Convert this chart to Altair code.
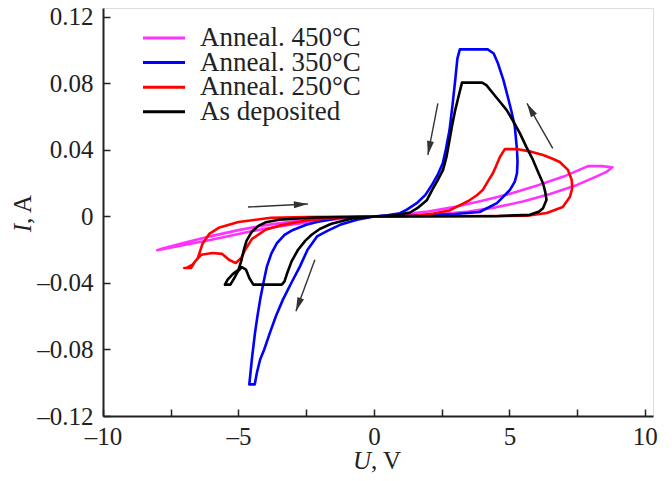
import math
import altair as alt
import pandas as pd

# ---------------- data ----------------
series_names = ["Anneal. 450°C", "Anneal. 350°C", "Anneal. 250°C", "As deposited"]
series_colors = ["#ff33ff", "#0000ff", "#ff0000", "#000000"]

# Anneal. 450°C (closed loop)
u_450 = [0, 1, 2, 3, 4, 5, 6, 7, 7.9, 8.4, 8.8,
         8.6, 8.2, 7.5, 6.5, 5.5, 4.5, 3.5, 2.5, 1.5, 0,
         -1, -2, -3, -4, -5, -6, -7, -8,
         -7.8, -7, -6, -5, -4, -3, -2, -1, 0]
i_450 = [0, 0.0012, 0.003, 0.0058, 0.0095, 0.0135, 0.0185, 0.024, 0.0303, 0.0303, 0.0296,
         0.027, 0.024, 0.019, 0.0135, 0.009, 0.0055, 0.003, 0.0015, 0.0005, 0,
         -0.001, -0.0025, -0.0048, -0.0072, -0.0105, -0.014, -0.0172, -0.0203,
         -0.0192, -0.0158, -0.0118, -0.0082, -0.0052, -0.003, -0.0015, -0.0005, 0]

# Anneal. 350°C
u_350 = [0, 1, 2, 3, 3.9, 4.54, 5.02, 5.2, 5.28, 5.3, 5.28, 5.2, 5.08, 4.94, 4.78, 4.58, 4.42, 4.2, 3.17,
         3.08, 3.0, 2.9, 2.79, 2.65, 2.54, 2.35, 2.18, 1.9, 1.58, 1.2, 0.96, 0.5, 0,
         -0.63, -1.25, -1.7, -2.1, -2.45, -2.73, -3.05, -3.36, -3.62, -3.84, -4.05, -4.2, -4.32, -4.4, -4.6,
         -4.5, -4.39, -4.3, -4.2, -4.08, -3.95, -3.78, -3.58, -3.3, -2.99, -2.5, -2.1, -1.25, 0]
i_350 = [0, 0.0003, 0.0008, 0.0015, 0.0027, 0.008, 0.016, 0.021, 0.026, 0.033, 0.040, 0.054, 0.063, 0.072, 0.082, 0.092, 0.098, 0.1005, 0.1005,
         0.095, 0.082, 0.067, 0.052, 0.040, 0.032, 0.025, 0.020, 0.013, 0.008, 0.004, 0.002, 0.0007, 0,
         -0.002, -0.005, -0.0085, -0.012, -0.020, -0.030, -0.040, -0.050, -0.060, -0.070, -0.080, -0.086, -0.094, -0.101, -0.101,
         -0.085, -0.070, -0.060, -0.050, -0.040, -0.030, -0.022, -0.016, -0.011, -0.0081, -0.005, -0.0033, -0.0008, 0]

# Anneal. 250°C
u_250 = [0, 4.5, 5.65, 6.38, 6.97, 7.23, 7.32, 7.3, 7.16, 6.86, 6.55, 6.24, 5.8, 5.31, 4.83,
         4.65, 4.5, 4.39, 4.2, 4.02, 3.8, 3.54, 3.2, 2.78, 2.2, 1.58, 0,
         -1.3, -2.5, -3.8, -5.0, -5.7, -6.08, -6.33, -6.5, -6.7, -6.93, -7.0, -6.75,
         -6.6, -6.37, -5.97, -5.6, -5.35, -5.1, -4.9, -4.75, -4.5, -4.0, -3.5, -2.53, -1.3, 0]
i_250 = [0, 0.0002, 0.0004, 0.0021, 0.0057, 0.0117, 0.017, 0.022, 0.028, 0.0328, 0.035, 0.037, 0.039, 0.0405, 0.0405,
         0.0358, 0.030, 0.026, 0.021, 0.016, 0.0128, 0.0099, 0.007, 0.0036, 0.0018, 0.0006, 0,
         -0.0002, -0.0004, -0.0008, -0.0033, -0.0066, -0.0105, -0.0165, -0.025, -0.029, -0.031, -0.031, -0.031,
         -0.027, -0.023, -0.022, -0.0225, -0.026, -0.028, -0.025, -0.020, -0.0135, -0.008, -0.0055, -0.0024, -0.0006, 0]

# As deposited
u_dep = [0, 4.6, 5.76, 6.1, 6.24, 6.37, 6.32, 6.24, 6.05, 5.87, 5.62, 5.39, 5.15, 4.9, 4.65, 4.4, 4.15, 3.99, 3.25,
         3.12, 3.0, 2.9, 2.79, 2.68, 2.55, 2.36, 2.15, 1.95, 1.6, 1.33, 0.8, 0,
         -0.8, -1.57, -2.0, -2.3, -2.53, -2.8, -3.04, -3.2, -3.3, -3.4, -4.45, -4.6, -4.72, -4.88, -5.02, -5.15, -5.3, -5.5,
         -5.4, -5.2, -5.0, -4.9, -4.8, -4.7, -4.5, -4.25, -4.0, -3.5, -2.2, 0]
i_dep = [0, 0.0003, 0.001, 0.003, 0.005, 0.010, 0.015, 0.020, 0.027, 0.034, 0.042, 0.050, 0.057, 0.064, 0.069, 0.074, 0.079, 0.0805, 0.0805,
         0.072, 0.064, 0.056, 0.046, 0.036, 0.028, 0.022, 0.016, 0.0097, 0.005, 0.0024, 0.0007, 0,
         -0.0012, -0.0044, -0.0075, -0.011, -0.0145, -0.020, -0.027, -0.034, -0.039, -0.041, -0.041, -0.037, -0.032, -0.0305, -0.033, -0.037, -0.041, -0.041,
         -0.038, -0.0345, -0.032, -0.027, -0.020, -0.0145, -0.009, -0.0055, -0.0035, -0.002, -0.0006, 0]

# arrows: start (u, i) -> end (u, i)
arrow_u1 = [-4.65, 2.36, 6.6, -2.18]
arrow_i1 = [0.0057, 0.068, 0.041, -0.026]
arrow_u2 = [-2.44, 1.99, 5.65, -2.88]
arrow_i2 = [0.0075, 0.037, 0.068, -0.057]

x_ticks = [-10, -7.5, -5, -2.5, 0, 2.5, 5, 7.5, 10]
y_ticks = [-0.12, -0.10, -0.08, -0.06, -0.04, -0.02, 0, 0.02, 0.04, 0.06, 0.08, 0.10, 0.12]

# ---------------- layout ----------------
W, H = 550, 408
X_DOM = [-10, 10.3]
Y_DOM = [-0.12, 0.1254]
FONT = "Liberation Serif"
TXT = "#222222"

rows = []
for name, us, iis in zip(series_names, [u_450, u_350, u_250, u_dep], [i_450, i_350, i_250, i_dep]):
    for k, (u, i) in enumerate(zip(us, iis)):
        rows.append({"series": name, "U": u, "I": i, "k": k})
df = pd.DataFrame(rows)

sx = W / (X_DOM[1] - X_DOM[0])
sy = H / (Y_DOM[1] - Y_DOM[0])
arr = pd.DataFrame({"u1": arrow_u1, "i1": arrow_i1, "u2": arrow_u2, "i2": arrow_i2})
arr["ang"] = [
    math.degrees(math.atan2((b - a) * sx, (d - c) * sy)) % 360
    for a, b, c, d in zip(arr.u1, arr.u2, arr.i1, arr.i2)
]

xs = alt.Scale(domain=X_DOM, nice=False, zero=False)
ys = alt.Scale(domain=Y_DOM, nice=False, zero=False)

x_axis = alt.Axis(
    values=x_ticks, title=None, grid=False,
    labelExpr="abs(datum.value % 5) < 0.01 ? (datum.value < 0 ? '–' : '') + format(abs(datum.value), '') : ''",
    labelFont=FONT, labelFontSize=25, labelColor=TXT,
    domainColor=TXT, domainWidth=2, tickColor=TXT, tickWidth=1.5,
    tickSize=alt.ExprRef(expr="-7"), labelPadding=15, labelFlush=False,
)
y_axis = alt.Axis(
    values=y_ticks, title=None, grid=False,
    labelExpr="abs(round(datum.value * 100)) % 4 == 0 ? (datum.value < 0 ? '–' : '') + format(abs(datum.value), '') : ''",
    labelFont=FONT, labelFontSize=25, labelColor=TXT,
    domainColor=TXT, domainWidth=2, tickColor=TXT, tickWidth=1.5,
    tickSize=alt.ExprRef(expr="-7"), labelPadding=17, labelFlush=False,
)

lines = alt.Chart(df).mark_line(strokeWidth=2.6, strokeJoin="round", strokeCap="round").encode(
    x=alt.X("U:Q", scale=xs, axis=x_axis),
    y=alt.Y("I:Q", scale=ys, axis=y_axis),
    color=alt.Color("series:N", scale=alt.Scale(domain=series_names, range=series_colors), legend=None),
    detail="series:N",
    order=alt.Order("k:Q"),
)

arrow_lines = alt.Chart(arr).mark_rule(color="#333333", strokeWidth=1.4).encode(
    x=alt.X("u1:Q", scale=xs), y=alt.Y("i1:Q", scale=ys),
    x2="u2:Q", y2="i2:Q",
)
arrow_heads = alt.Chart(arr).mark_point(
    shape="M0,0L-0.9,3.6L0.9,3.6Z", filled=True, color="#333333", opacity=1, size=60, strokeWidth=0
).encode(
    x=alt.X("u2:Q", scale=xs), y=alt.Y("i2:Q", scale=ys),
    angle=alt.Angle("ang:Q", scale=None),
)

leg = pd.DataFrame({"name": series_names, "color": series_colors, "idx": list(range(len(series_names)))})
leg_base = alt.Chart(leg).transform_calculate(ly="30 + datum.idx * 24.6")
leg_lines = leg_base.mark_rule(strokeWidth=3).encode(
    x=alt.value(40), x2=alt.value(82),
    y=alt.Y("ly:Q", scale=None),
    color=alt.Color("color:N", scale=None),
)
leg_text = leg_base.mark_text(align="left", baseline="middle", font=FONT, fontSize=27, color=TXT).encode(
    x=alt.value(97), y=alt.Y("ly:Q", scale=None), text="name:N",
)

title_df = pd.DataFrame({"t": [0]})
xt_u = alt.Chart(title_df).mark_text(text="U", align="right", baseline="alphabetic", font=FONT,
                                     fontSize=25, fontStyle="italic", color=TXT).encode(
    x=alt.value(268), y=alt.value(461))
xt_v = alt.Chart(title_df).mark_text(text=", V", align="left", baseline="alphabetic", font=FONT,
                                     fontSize=25, color=TXT).encode(
    x=alt.value(268), y=alt.value(461))
yt_i = alt.Chart(title_df).mark_text(text="I", align="right", baseline="middle", font=FONT,
                                     fontSize=25, fontStyle="italic", color=TXT, angle=270).encode(
    x=alt.value(-80), y=alt.value(216))
yt_a = alt.Chart(title_df).mark_text(text=", A", align="left", baseline="middle", font=FONT,
                                     fontSize=25, color=TXT, angle=270).encode(
    x=alt.value(-80), y=alt.value(216))

chart = alt.layer(
    lines, arrow_lines, arrow_heads, leg_lines, leg_text, xt_u, xt_v, yt_i, yt_a
).properties(
    width=W, height=H,
    autosize=alt.AutoSizeParams(type="none"),
    padding={"left": 95, "top": 0, "right": 8, "bottom": 57},
).configure_view(stroke=None).configure(background="white")

chart.save("out.html", embed_options={"renderer": "svg", "actions": False})
